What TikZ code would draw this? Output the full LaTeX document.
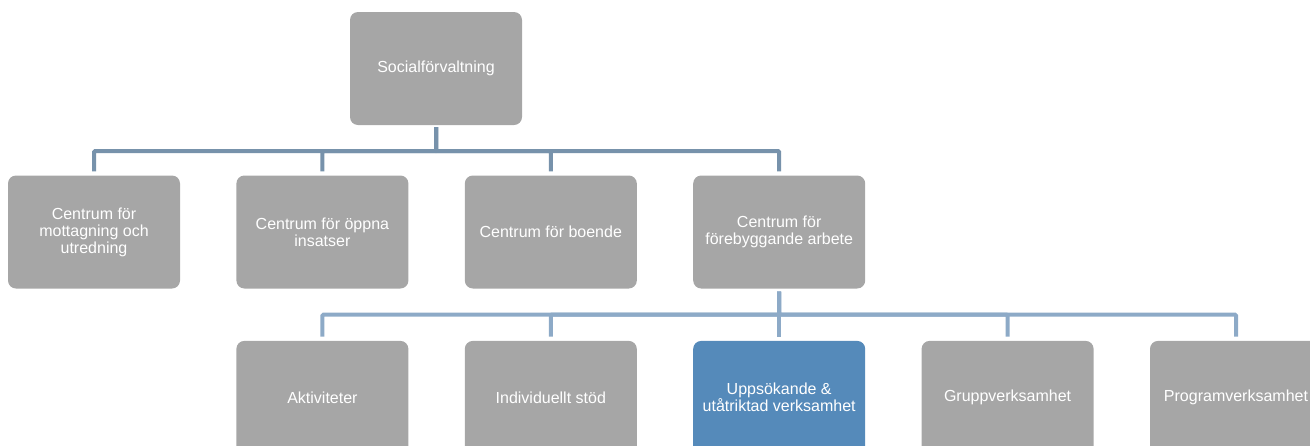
\documentclass[tikz,border=0pt]{standalone}
\usepackage{fontspec}
\setmainfont{Liberation Sans}
\usepackage{tikz}
\usetikzlibrary{positioning, calc}

\definecolor{boxgray}{HTML}{A6A6A6}
\definecolor{boxblue}{HTML}{558ABA}
\definecolor{busdark}{HTML}{7792AB}
\definecolor{buslight}{HTML}{8DAAC7}

\begin{document}
\begin{tikzpicture}[x=1pt, y=1pt,
      node distance=52pt and 56pt,
      unit/.style={rectangle, rounded corners=8pt, fill=boxgray, text=white,
      minimum width=172pt, minimum height=113pt, inner sep=6pt,
      align=center, font=\fontsize{16}{17}\selectfont},
      hilite/.style={unit, fill=boxblue},
      upbus/.style={draw=busdark, line width=4pt, rounded corners=1pt},
      lowbus/.style={draw=buslight, line width=4pt, rounded corners=1pt}
    ]
    \useasboundingbox (0,0) rectangle (1310,-445);
    \clip (0,0) rectangle (1310,-445);

    \node[unit] (soc) at (436,-68.5) {Socialförvaltning};

    \node[unit] (mott) at (94,-232) {Centrum för\\mottagning och\\utredning};
    \node[unit, right=of mott] (oppna) {Centrum för öppna\\insatser};
    \node[unit, right=of oppna] (boende) {Centrum för boende};
    \node[unit, right=of boende] (fore) {Centrum för\\förebyggande arbete};

    \node[unit, below=of oppna] (akt) {Aktiviteter};
    \node[unit, right=of akt] (indiv) {Individuellt stöd};
    \node[hilite, right=of indiv] (upps) {Uppsökande \&\\utåtriktad verksamhet};
    \node[unit, right=of upps] (grupp) {Gruppverksamhet};
    \node[unit, right=of grupp] (prog) {Programverksamhet};

    % upper level
    \foreach \n in {mott, oppna, boende, fore}
      \draw[upbus, shorten <=2pt, shorten >=4pt] (soc.south) -- ++(0,-26) -| (\n.north);

    % lower level
    \foreach \n in {akt, indiv, upps, grupp, prog}
      \draw[lowbus, shorten <=3pt, shorten >=4pt] (fore.south) -- ++(0,-26) -| (\n.north);
  \end{tikzpicture}
\end{document}
